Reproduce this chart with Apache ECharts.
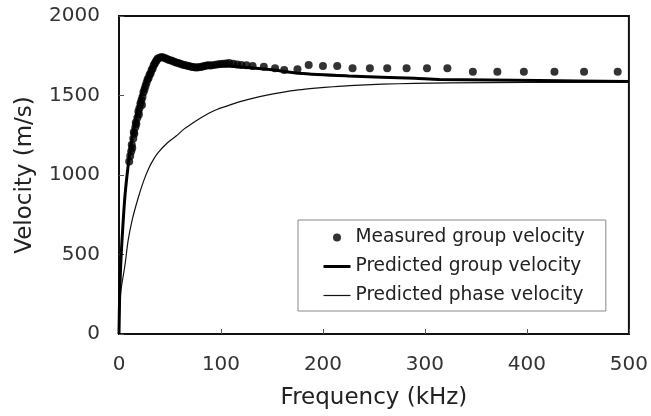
<!DOCTYPE html>
<html>
<head>
<meta charset="utf-8">
<script src="https://cdn.jsdelivr.net/npm/echarts@6/dist/echarts.min.js"></script>
<style>html,body{margin:0;padding:0;background:#fff}#c{width:651px;height:416px}</style>
</head>
<body>
<div id="c"></div>
<script>
// Measured group velocity (kHz, m/s)
const measuredFreq = [10,11,12,12.5,13,14,14.5,15,16,16.5,17,18,19,19.5,20,21,22,22.5,23,24,25,26,27,28,29,30,31,32,33,34,35,36,37,38,40,42,44,46,48,50,52,54,56,58,60,62,64,66,68,70,72,74,76,78,80,82,84,86,88,90,93,96,99,102,105,108,112,116,120,125,131,142,153,162,175,186,200,214,229,246,263,282,302,322,347,371,397,427,456,489];
const measuredVel  = [1085,1120,1150,1190,1170,1230,1270,1260,1300,1330,1320,1360,1400,1380,1420,1450,1470,1440,1490,1520,1540,1560,1580,1600,1610,1630,1640,1660,1670,1690,1700,1712,1722,1732,1738,1742,1738,1732,1727,1722,1718,1712,1708,1704,1700,1695,1692,1688,1685,1682,1680,1678,1676,1678,1680,1682,1685,1688,1690,1688,1692,1695,1698,1700,1702,1705,1700,1695,1692,1690,1686,1681,1671,1660,1665,1692,1686,1686,1671,1671,1671,1671,1671,1671,1650,1650,1650,1650,1650,1650];
// Predicted group velocity
const groupFreq = [0,0.5,1,2,4,6,9,12,16,20,25,30,35,40,45,50,60,70,80,90,100,120,150,176,225,290,314,412,500];
const groupVel  = [0,200,320,480,700,880,1060,1200,1340,1460,1570,1650,1710,1735,1740,1730,1705,1685,1675,1680,1685,1680,1662,1640,1623,1608,1601,1594,1588];
// Predicted phase velocity
const phaseFreq = [0,1,2,4,6,9,13,19,24,29,34,39,47,56,64,72,80,88,96,105,117,130,145,160,176,193,210,226,258,290,324,400,500];
const phaseVel  = [0,200,280,360,440,590,720,860,960,1040,1100,1145,1200,1245,1290,1325,1358,1388,1412,1432,1458,1480,1502,1520,1535,1546,1555,1562,1571,1576,1579,1582,1584];
// Axis ticks
const xTicks = {min: 0, max: 500, interval: 100};
const yTicks = {min: 0, max: 2000, interval: 500};
const legendNames = ['Measured group velocity','Predicted group velocity','Predicted phase velocity'];

const pair = (a,b) => a.map((v,i)=>[v,b[i]]);
const FONT = 'DejaVu Sans';
const noDot = {color:'transparent', borderWidth:0, opacity:0};
const chart = echarts.init(document.getElementById('c'), null, {renderer:'canvas'});
chart.setOption({
  animation: false,
  backgroundColor: '#fff',
  grid: {left:119, top:16, right:21, bottom:82, show:true, borderColor:'#111', borderWidth:2},
  legend: {
    left: 298, top: 220, orient: 'vertical',
    padding: [8, 21, 6, 24],
    borderColor: '#888', borderWidth: 1,
    itemGap: 10, itemWidth: 27, itemHeight: 8,
    textStyle: {fontFamily: FONT, fontSize: 18.6, color: '#222'},
    data: [
      {name: legendNames[0], icon: 'circle'},
      {name: legendNames[1], itemStyle: noDot, lineStyle:{color:'#000', width:3, opacity:1}},
      {name: legendNames[2], itemStyle: noDot, lineStyle:{color:'#111', width:1.2, opacity:1}}
    ]
  },
  xAxis: {
    type: 'value', min: xTicks.min, max: xTicks.max, interval: xTicks.interval,
    name: 'Frequency (kHz)', nameLocation: 'middle', nameGap: 53,
    nameTextStyle: {fontFamily: FONT, fontSize: 23, color: '#222'},
    axisLine: {show:true, lineStyle:{color:'#111', width:2}},
    axisTick: {show:true, inside:true, length:5, lineStyle:{color:'#555'}},
    axisLabel: {fontFamily: FONT, fontSize: 20, color: '#333', margin: 21},
    splitLine: {show:false}
  },
  yAxis: {
    type: 'value', min: yTicks.min, max: yTicks.max, interval: yTicks.interval,
    name: 'Velocity (m/s)', nameLocation: 'middle', nameGap: 82,
    nameTextStyle: {fontFamily: FONT, fontSize: 23, color: '#222'},
    axisLine: {show:true, lineStyle:{color:'#111', width:2}},
    axisTick: {show:true, inside:true, length:5, lineStyle:{color:'#555'}},
    axisLabel: {fontFamily: FONT, fontSize: 20, color: '#333', margin: 19, formatter: v => String(v)},
    splitLine: {show:false}
  },
  series: [
    {name: legendNames[1], type:'line', data: pair(groupFreq, groupVel), showSymbol:false, symbol:'none', smooth:0.3,
     lineStyle:{color:'#000', width:3}, itemStyle:{color:'#000'}, z:3},
    {name: legendNames[2], type:'line', data: pair(phaseFreq, phaseVel), showSymbol:false, symbol:'none', smooth:0.3,
     lineStyle:{color:'#111', width:1.2}, itemStyle:{color:'#111'}, z:2},
    {name: legendNames[0], type:'scatter', data: pair(measuredFreq, measuredVel), symbol:'circle', symbolSize:8,
     itemStyle:{color:'#000'}, z:4}
  ]
});
</script>
</body>
</html>
